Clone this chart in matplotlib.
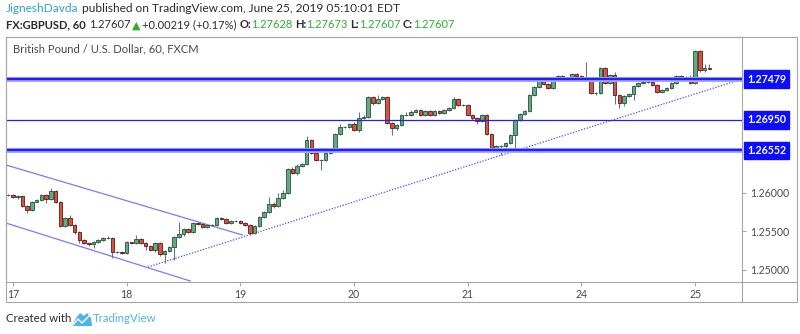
import matplotlib
matplotlib.use("Agg")
import matplotlib.pyplot as plt
import matplotlib.patheffects as pe
from matplotlib.patches import Rectangle, Polygon
from matplotlib.lines import Line2D
import numpy as np

# GBPUSD hourly candles, 16-25 June 2019
opens = [1.25974, 1.25974, 1.25948, 1.25961, 1.25831, 1.25779, 1.25883, 1.25909, 1.25974, 1.25922,
         1.26026, 1.25883, 1.25571, 1.25675, 1.25584, 1.25494, 1.25390, 1.25351, 1.25338, 1.25364,
         1.25390, 1.25416, 1.25416, 1.25234, 1.25234, 1.25221, 1.25364, 1.25351, 1.25403, 1.25351,
         1.25312, 1.25260, 1.25351, 1.25208, 1.25247, 1.25299, 1.25429, 1.25468, 1.25532, 1.25494,
         1.25610, 1.25597, 1.25558, 1.25584, 1.25584, 1.25675, 1.25662, 1.25610, 1.25636, 1.25636,
         1.25610, 1.25584, 1.25481, 1.25571, 1.25688, 1.25753, 1.25857, 1.25831, 1.25935, 1.26000,
         1.26312, 1.26260, 1.26351, 1.26377, 1.26688, 1.26519, 1.26429, 1.26429, 1.26519, 1.26545,
         1.26766, 1.26857, 1.26857, 1.26896, 1.26818, 1.26974, 1.26987, 1.27247, 1.27169, 1.27221,
         1.27247, 1.26909, 1.26844, 1.26883, 1.27013, 1.27013, 1.27052, 1.27078, 1.27013, 1.27065,
         1.27013, 1.27065, 1.27039, 1.27078, 1.27104, 1.27221, 1.27143, 1.27143, 1.27013, 1.26974,
         1.26935, 1.27013, 1.26766, 1.26584, 1.26610, 1.26610, 1.26649, 1.26753, 1.26948, 1.27026,
         1.27065, 1.27273, 1.27377, 1.27455, 1.27416, 1.27364, 1.27468, 1.27519, 1.27468, 1.27468,
         1.27545, 1.27519, 1.27494, 1.27494, 1.27299, 1.27299, 1.27623, 1.27429, 1.27532, 1.27273,
         1.27169, 1.27260, 1.27286, 1.27390, 1.27429, 1.27442, 1.27442, 1.27403, 1.27312, 1.27338,
         1.27364, 1.27429, 1.27519, 1.27481, 1.27494, 1.27429, 1.27844, 1.27597, 1.27628]
highs = [1.25987, 1.25987, 1.25974, 1.25974, 1.25844, 1.25896, 1.25922, 1.25987, 1.25987, 1.26065,
         1.26039, 1.25896, 1.25688, 1.25714, 1.25597, 1.25506, 1.25403, 1.25364, 1.25377, 1.25403,
         1.25429, 1.25442, 1.25429, 1.25247, 1.25247, 1.25377, 1.25364, 1.25455, 1.25416, 1.25364,
         1.25325, 1.25364, 1.25364, 1.25260, 1.25312, 1.25442, 1.25623, 1.25545, 1.25545, 1.25623,
         1.25623, 1.25610, 1.25597, 1.25597, 1.25688, 1.25688, 1.25675, 1.25649, 1.25649, 1.25649,
         1.25623, 1.25597, 1.25584, 1.25701, 1.25766, 1.25948, 1.25883, 1.26000, 1.26039, 1.26325,
         1.26338, 1.26377, 1.26390, 1.26740, 1.26701, 1.26532, 1.26442, 1.26532, 1.26558, 1.26779,
         1.26896, 1.26870, 1.26909, 1.26922, 1.27052, 1.27013, 1.27260, 1.27260, 1.27273, 1.27260,
         1.27260, 1.26922, 1.26896, 1.27026, 1.27052, 1.27078, 1.27091, 1.27091, 1.27078, 1.27078,
         1.27078, 1.27078, 1.27091, 1.27117, 1.27247, 1.27234, 1.27156, 1.27156, 1.27026, 1.26987,
         1.27026, 1.27026, 1.26779, 1.26623, 1.26623, 1.26662, 1.26766, 1.26961, 1.27039, 1.27078,
         1.27286, 1.27390, 1.27468, 1.27468, 1.27429, 1.27481, 1.27532, 1.27532, 1.27494, 1.27558,
         1.27558, 1.27532, 1.27701, 1.27506, 1.27312, 1.27636, 1.27636, 1.27545, 1.27571, 1.27286,
         1.27273, 1.27299, 1.27403, 1.27442, 1.27455, 1.27468, 1.27455, 1.27416, 1.27351, 1.27377,
         1.27442, 1.27532, 1.27532, 1.27519, 1.27532, 1.27857, 1.27857, 1.27675, 1.27673]
lows = [1.25961, 1.25935, 1.25922, 1.25818, 1.25740, 1.25766, 1.25883, 1.25896, 1.25870, 1.25909,
        1.25870, 1.25558, 1.25558, 1.25571, 1.25468, 1.25351, 1.25338, 1.25312, 1.25286, 1.25351,
        1.25377, 1.25403, 1.25156, 1.25221, 1.25208, 1.25208, 1.25338, 1.25338, 1.25338, 1.25260,
        1.25247, 1.25234, 1.25182, 1.25091, 1.25234, 1.25130, 1.25416, 1.25442, 1.25481, 1.25481,
        1.25584, 1.25545, 1.25545, 1.25571, 1.25571, 1.25649, 1.25597, 1.25597, 1.25623, 1.25597,
        1.25571, 1.25455, 1.25468, 1.25558, 1.25675, 1.25740, 1.25805, 1.25818, 1.25922, 1.25987,
        1.26247, 1.26234, 1.26338, 1.26364, 1.26506, 1.26416, 1.26299, 1.26416, 1.26506, 1.26532,
        1.26753, 1.26844, 1.26844, 1.26805, 1.26792, 1.26961, 1.26974, 1.27143, 1.27156, 1.27208,
        1.26896, 1.26753, 1.26818, 1.26870, 1.27000, 1.27000, 1.27039, 1.27000, 1.27000, 1.27000,
        1.27000, 1.27026, 1.27026, 1.27065, 1.27091, 1.27130, 1.27130, 1.27000, 1.26948, 1.26896,
        1.26922, 1.26753, 1.26571, 1.26558, 1.26494, 1.26597, 1.26636, 1.26558, 1.26935, 1.27013,
        1.27052, 1.27260, 1.27364, 1.27403, 1.27351, 1.27351, 1.27455, 1.27455, 1.27455, 1.27455,
        1.27506, 1.27481, 1.27481, 1.27286, 1.27273, 1.27286, 1.27416, 1.27416, 1.27156, 1.27104,
        1.27130, 1.27247, 1.27208, 1.27377, 1.27416, 1.27429, 1.27390, 1.27299, 1.27299, 1.27325,
        1.27351, 1.27416, 1.27468, 1.27468, 1.27416, 1.27416, 1.27571, 1.27571, 1.27607]
closes = [1.25974, 1.25948, 1.25961, 1.25831, 1.25779, 1.25883, 1.25909, 1.25974, 1.25922, 1.26026,
          1.25883, 1.25571, 1.25675, 1.25584, 1.25494, 1.25390, 1.25351, 1.25338, 1.25364, 1.25390,
          1.25416, 1.25416, 1.25234, 1.25234, 1.25221, 1.25364, 1.25351, 1.25403, 1.25351, 1.25312,
          1.25260, 1.25351, 1.25208, 1.25247, 1.25299, 1.25429, 1.25468, 1.25532, 1.25494, 1.25610,
          1.25597, 1.25558, 1.25584, 1.25584, 1.25675, 1.25662, 1.25610, 1.25636, 1.25636, 1.25610,
          1.25584, 1.25481, 1.25571, 1.25688, 1.25753, 1.25857, 1.25831, 1.25935, 1.26000, 1.26312,
          1.26260, 1.26351, 1.26377, 1.26688, 1.26519, 1.26429, 1.26429, 1.26519, 1.26545, 1.26766,
          1.26857, 1.26857, 1.26896, 1.26818, 1.26974, 1.26987, 1.27247, 1.27169, 1.27221, 1.27247,
          1.26909, 1.26844, 1.26883, 1.27013, 1.27013, 1.27052, 1.27078, 1.27013, 1.27065, 1.27013,
          1.27065, 1.27039, 1.27078, 1.27104, 1.27221, 1.27143, 1.27143, 1.27013, 1.26974, 1.26935,
          1.27013, 1.26766, 1.26584, 1.26610, 1.26610, 1.26649, 1.26753, 1.26948, 1.27026, 1.27065,
          1.27273, 1.27377, 1.27455, 1.27416, 1.27364, 1.27468, 1.27519, 1.27468, 1.27468, 1.27545,
          1.27519, 1.27494, 1.27494, 1.27299, 1.27299, 1.27623, 1.27429, 1.27532, 1.27273, 1.27169,
          1.27260, 1.27286, 1.27390, 1.27429, 1.27442, 1.27442, 1.27403, 1.27312, 1.27338, 1.27364,
          1.27429, 1.27519, 1.27481, 1.27494, 1.27429, 1.27844, 1.27597, 1.27628, 1.27607]

day_labels = ["17", "18", "19", "20", "21", "24", "25"]
day_starts = [0, 24, 48, 72, 96, 120, 144]

price_ticks = [1.250, 1.255, 1.260]
levels = [1.27479, 1.26950, 1.26552]
level_thick = [True, False, True]

# descending channel and rising trendline (bar index, price)
channel_upper = ([-1.5, 48.4], [1.26364, 1.25455])
channel_lower = ([-1.5, 37.4], [1.25610, 1.24857])
trendline = ([28.5, 153.9], [1.25039, 1.27479])

W, H = 800, 334
GRID = "#a6a6a6"
TXT = "#4a4a4a"
FONT = ["Lato", "DejaVu Sans"]
plt.rcParams["font.family"] = FONT


def fx(px):
    return px / W


def fy(py):
    return 1 - py / H


fig = plt.figure(figsize=(W / 100, H / 100), dpi=100)
fig.patch.set_facecolor("white")
ax = fig.add_axes([fx(6), fy(282), fx(742) - fx(6), fy(37) - fy(282)])

o = np.array(opens)
h = np.array(highs)
l = np.array(lows)
c = np.array(closes)
x = np.arange(len(o)) - 1
up = c >= o

ax.vlines(x, l, h, color="#737375", lw=0.8, zorder=2)
body = np.maximum(np.abs(c - o), 0.00002)
bottom = np.minimum(o, c)
ax.bar(x[up], body[up], bottom=bottom[up], width=0.76, color="#6ba583",
       edgecolor="#225437", lw=0.6, zorder=3)
ax.bar(x[~up], body[~up], bottom=bottom[~up], width=0.76, color="#d75442",
       edgecolor="#5b1a13", lw=0.6, zorder=3)

for lv, thick in zip(levels, level_thick):
    if thick:
        ax.axhline(lv, color="#2020ff", lw=1.7, zorder=4,
                   path_effects=[pe.Stroke(linewidth=3.6, foreground="#a8a8ff"), pe.Normal()])
    else:
        ax.axhline(lv, color="#2020ff", lw=0.9, zorder=4)
    ax.annotate(f"{lv:.5f}", xy=(1.0, lv), xycoords=("axes fraction", "data"),
                xytext=(3.5, 0), textcoords="offset points", ha="left", va="center",
                fontsize=7.6, fontweight="bold", color="white", annotation_clip=False,
                bbox=dict(boxstyle="square,pad=0.3", fc="#0c0cff", ec="#0c0cff"), zorder=10)

ax.plot(*channel_upper, color="#7a7aff", lw=0.9, zorder=1.5)
ax.plot(*channel_lower, color="#7a7aff", lw=0.9, zorder=1.5)
ax.plot(*trendline, color="#4a4aff", lw=0.9, ls=(0, (1, 1.3)), zorder=1.5)

ax.set_xlim(-1.48, 153.9)
ax.set_ylim(1.24844, 1.28026)
ax.set_xticks(day_starts)
ax.set_xticklabels(day_labels)
ax.yaxis.tick_right()
ax.set_yticks(price_ticks)
ax.set_yticklabels([f"{p:.5f}" for p in price_ticks])
ax.tick_params(axis="both", colors=GRID, labelcolor=TXT, labelsize=7.6, length=3, width=0.8)
ax.tick_params(axis="x", pad=2)
ax.tick_params(axis="y", pad=3)
for s in ax.spines.values():
    s.set_color(GRID)
    s.set_linewidth(0.8)

ax.text(0.0095, 0.95, "British Pound / U.S. Dollar, 60, FXCM", transform=ax.transAxes,
        fontsize=8.1, color=TXT, ha="left", va="center")

# outer frame around the price and time scales
fig.add_artist(Rectangle((fx(6), fy(302)), fx(797) - fx(6), fy(37) - fy(302),
                         transform=fig.transFigure, fill=False, ec=GRID, lw=0.8))
fig.add_artist(Line2D([fx(742), fx(742)], [fy(282), fy(302)], transform=fig.transFigure,
                      color=GRID, lw=0.8))
fig.add_artist(Line2D([fx(742), fx(797)], [fy(282), fy(282)], transform=fig.transFigure,
                      color=GRID, lw=0.8))

renderer = fig.canvas.get_renderer()


def text_runs(px, py, runs, size):
    for s, color, weight, gap in runs:
        t = fig.text(fx(px), fy(py), s, color=color, fontsize=size, fontweight=weight,
                     ha="left", va="center", family=FONT)
        px = t.get_window_extent(renderer).x1 + gap


GREEN = "#2fae2f"
DARK = "#2b2b2b"
text_runs(6, 9, [("JigneshDavda", "#2f9fd8", "normal", 3),
                 ("published on TradingView.com, June 25, 2019 05:10:01 EDT", DARK, "normal", 0)], 8.6)
text_runs(6, 25, [("FX:GBPUSD, 60", DARK, "bold", 3.5),
                  ("1.27607", DARK, "normal", 1.5),
                  ("\u25b2", GREEN, "normal", 1.5),
                  ("+0.00219 (+0.17%)", DARK, "normal", 2.5),
                  ("O:", DARK, "bold", 0), ("1.27628", GREEN, "normal", 2.5),
                  ("H:", DARK, "bold", 0), ("1.27673", GREEN, "normal", 2.5),
                  ("L:", DARK, "bold", 0), ("1.27607", GREEN, "normal", 2.5),
                  ("C:", DARK, "bold", 0), ("1.27607", GREEN, "normal", 0)], 8.0)

# footer with logo
text_runs(6, 319, [("Created with", DARK, "normal", 0)], 8.3)
logo = Polygon([(fx(72), fy(326)), (fx(76), fy(318)), (fx(80), fy(313)), (fx(84), fy(316)),
                (fx(87), fy(313)), (fx(91), fy(318)), (fx(92), fy(326))],
               closed=True, transform=fig.transFigure, fc="#4fb3e6", ec="none")
fig.add_artist(logo)
fig.add_artist(Line2D([fx(73), fx(78), fx(82), fx(90)], [fy(325), fy(319), fy(323), fy(315)],
                      transform=fig.transFigure, color="white", lw=1.0))
text_runs(93, 319, [("TradingView", "#4fb3e6", "normal", 0)], 8.3)

fig.savefig("out.png", dpi=100)
